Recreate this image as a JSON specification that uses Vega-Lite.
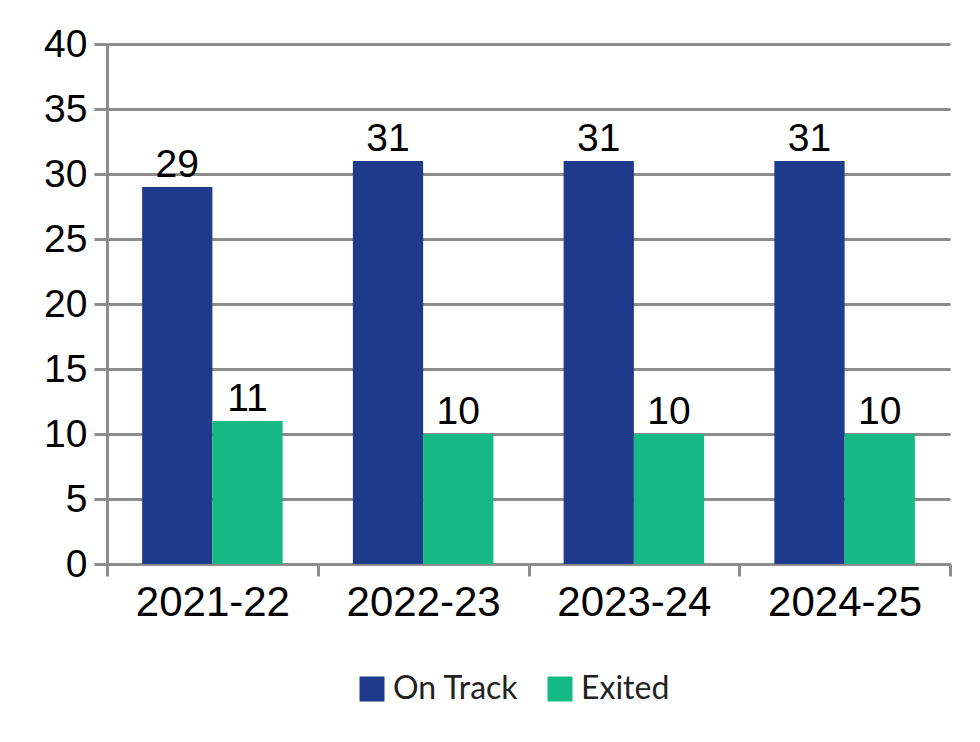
{
  "$schema": "https://vega.github.io/schema/vega-lite/v6.json",
  "width": 843,
  "height": 520,
  "autosize": "none",
  "padding": {"left": 107, "top": 44, "right": 30, "bottom": 178},
  "background": "white",
  "data": {
    "values": [
      {"year": "2021-22", "series": "On Track", "value": 29},
      {"year": "2021-22", "series": "Exited", "value": 11},
      {"year": "2022-23", "series": "On Track", "value": 31},
      {"year": "2022-23", "series": "Exited", "value": 10},
      {"year": "2023-24", "series": "On Track", "value": 31},
      {"year": "2023-24", "series": "Exited", "value": 10},
      {"year": "2024-25", "series": "On Track", "value": 31},
      {"year": "2024-25", "series": "Exited", "value": 10}
    ]
  },
  "encoding": {
    "x": {
      "field": "year",
      "type": "nominal",
      "scale": {"paddingInner": 0, "paddingOuter": 0},
      "axis": {
        "title": null,
        "labelAngle": 0,
        "tickBand": "extent",
        "grid": false,
        "domainColor": "#8c8c8c",
        "domainWidth": 3,
        "tickColor": "#8c8c8c",
        "tickWidth": 3,
        "tickSize": 12,
        "labelFont": "Liberation Sans",
        "labelFontSize": 42,
        "labelColor": "black",
        "labelPadding": 6
      }
    },
    "xOffset": {"field": "series", "sort": ["On Track", "Exited"], "scale": {"paddingInner": 0, "paddingOuter": 0.5}},
    "y": {
      "field": "value",
      "type": "quantitative",
      "scale": {"domain": [0, 40], "nice": false},
      "axis": {
        "title": null,
        "values": [0, 5, 10, 15, 20, 25, 30, 35, 40],
        "grid": true,
        "gridColor": "#8c8c8c",
        "gridWidth": 3,
        "domainColor": "#8c8c8c",
        "domainWidth": 3,
        "tickColor": "#8c8c8c",
        "tickWidth": 3,
        "tickSize": 13,
        "labelFont": "Liberation Sans",
        "labelFontSize": 39,
        "labelColor": "black",
        "labelPadding": 7
      }
    }
  },
  "layer": [
    {
      "mark": {"type": "bar"},
      "encoding": {
        "color": {
          "field": "series",
          "type": "nominal",
          "scale": {"domain": ["On Track", "Exited"], "range": ["#1E3A8A", "#15B983"]},
          "legend": {
            "title": null,
            "orient": "none",
            "direction": "horizontal",
            "legendX": 249,
            "legendY": 629,
            "symbolType": "square",
            "symbolSize": 625,
            "symbolStrokeWidth": 0,
            "symbolOpacity": 1,
            "labelFont": "Lato",
            "labelFontSize": 32,
            "labelColor": "#222222",
            "labelOffset": 5,
            "columnPadding": 25
          }
        }
      }
    },
    {
      "mark": {"type": "text", "dy": -10, "baseline": "alphabetic", "fontSize": 39, "font": "Liberation Sans", "color": "black"},
      "encoding": {"text": {"field": "value", "type": "quantitative"}}
    }
  ],
  "config": {"view": {"stroke": null}}
}
